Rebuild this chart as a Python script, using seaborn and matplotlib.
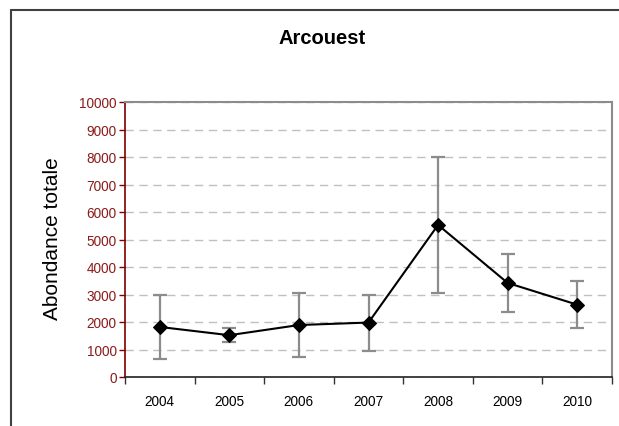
import matplotlib
matplotlib.use("Agg")
import matplotlib.pyplot as plt
from matplotlib.lines import Line2D
import seaborn as sns
import pandas as pd
import numpy as np

years = ["2004", "2005", "2006", "2007", "2008", "2009", "2010"]
abondance = [1820, 1520, 1890, 1980, 5530, 3420, 2630]
erreur = [1170, 255, 1165, 1020, 2480, 1050, 850]
y_ticks = [0, 1000, 2000, 3000, 4000, 5000, 6000, 7000, 8000, 9000, 10000]

sns.set_theme(style="white")
plt.rcParams['font.family'] = ['Liberation Sans', 'DejaVu Sans']

df = pd.DataFrame({"annee": years, "abondance": abondance, "erreur": erreur})

W, H = 619, 427
fig = plt.figure(figsize=(W / 100, H / 100), dpi=100)
fig.patch.set_facecolor("white")
ax = fig.add_axes([125 / W, (H - 378) / H, 487 / W, 275 / H])

pos = np.arange(len(years))
ax.errorbar(pos, df["abondance"], yerr=df["erreur"], fmt="none",
            ecolor="#8c8c8c", elinewidth=1.6, capsize=5, capthick=1.6, zorder=2)
sns.lineplot(data=df, x="annee", y="abondance", ax=ax, color="black",
             linewidth=1.5, marker="D", markersize=7.5, markeredgecolor="black",
             markerfacecolor="black", zorder=3, sort=False)

ax.set_xlim(-0.5, len(years) - 0.5)
ax.set_ylim(0, 10000)
ax.set_yticks(y_ticks)
ax.set_yticklabels([str(v) for v in y_ticks], color="#8b1a1a", fontsize=9.8)
ax.set_xticks(np.arange(-0.5, len(years), 1.0))
ax.set_xticklabels([""] * (len(years) + 1))
ax.set_xticks(pos, minor=True)
ax.set_xticklabels(years, minor=True, fontsize=9.8, color="black")
ax.tick_params(axis="x", which="major", length=5, width=1, color="#333333", direction="out", bottom=True)
ax.tick_params(axis="x", which="minor", length=0, pad=12)
ax.tick_params(axis="y", length=4, width=1, color="#800000", direction="out", left=True, pad=2)

ax.yaxis.grid(True, linestyle=(0, (6, 4)), color="#c0c0c0", linewidth=1)
ax.xaxis.grid(False)
ax.set_axisbelow(True)

for s in ["top", "right"]:
    ax.spines[s].set_color("#8c8c8c")
    ax.spines[s].set_linewidth(1.5)
ax.spines["left"].set_color("#800000")
ax.spines["left"].set_linewidth(1.2)
ax.spines["bottom"].set_color("#222222")
ax.spines["bottom"].set_linewidth(1.2)

ax.set_xlabel("")
ax.set_ylabel("")
fig.text(53 / W, 1 - 239 / H, "Abondance totale", rotation=90, ha="center",
         va="center", fontsize=15, color="black")
fig.text(322 / W, 1 - 38 / H, "Arcouest", ha="center", va="center",
         fontsize=14.5, fontweight="bold", color="black")

# outer chart frame
fig.add_artist(Line2D([11 / W, 11 / W], [0, 1 - 11 / H], color="#404040", linewidth=1.5, transform=fig.transFigure))
fig.add_artist(Line2D([11 / W, 1], [1 - 11 / H, 1 - 11 / H], color="#404040", linewidth=1.5, transform=fig.transFigure))

fig.savefig("out.png", dpi=100, facecolor="white")
